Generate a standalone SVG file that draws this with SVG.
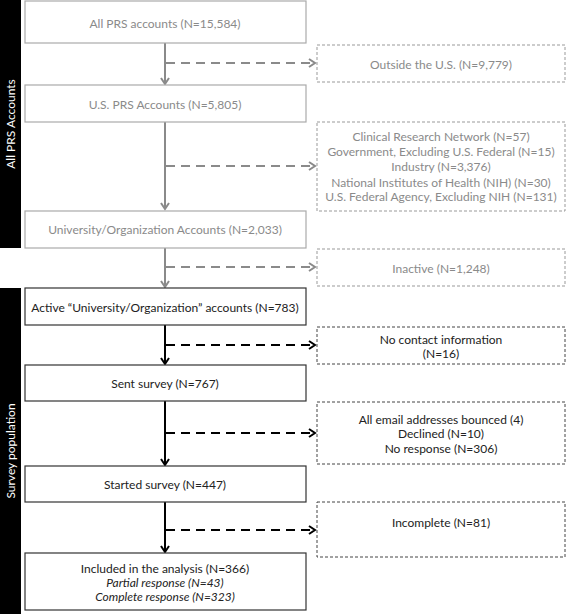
<svg xmlns="http://www.w3.org/2000/svg" width="567" height="614" viewBox="0 0 567 614">
<style>
text{font-family:Lato,"Liberation Sans",sans-serif;font-size:12px;text-anchor:middle}
.gbox{fill:#fff;stroke:#aaa;stroke-width:1.2}
.bbox{fill:#fff;stroke:#333;stroke-width:1.2}
.gdash{fill:#fff;stroke:#999;stroke-width:1;stroke-dasharray:3,2}
.bdash{fill:#fff;stroke:#444;stroke-width:1;stroke-dasharray:3,2}
.gt{fill:#8a8a8a}
.bt{fill:#222}
.side{fill:#000}
.st{fill:#fff;font-size:12px}
.gv{stroke:#8a8a8a;stroke-width:2;fill:none}
.bv{stroke:#000;stroke-width:2;fill:none}
.gh{stroke:#8a8a8a;stroke-width:2;fill:none;stroke-dasharray:9,6}
.bh{stroke:#000;stroke-width:2.2;fill:none;stroke-dasharray:9,6}
</style>
<defs>
<marker id="ag" markerWidth="10" markerHeight="10" refX="7" refY="5" orient="auto" markerUnits="userSpaceOnUse">
<path d="M1,1 L7,5 L1,9" fill="none" stroke="#8a8a8a" stroke-width="2"/>
</marker>
<marker id="ab" markerWidth="10" markerHeight="10" refX="7" refY="5" orient="auto" markerUnits="userSpaceOnUse">
<path d="M1,1 L7,5 L1,9" fill="none" stroke="#000" stroke-width="2"/>
</marker>
</defs>

<g id="side1"><rect class="side" x="0" y="0" width="21" height="248"/><text class="st" transform="translate(14.5,124) rotate(-90)">All PRS Accounts</text></g>
<g id="side2"><rect class="side" x="0" y="288" width="21" height="326"/><text class="st" transform="translate(14.5,451) rotate(-90)">Survey population</text></g>

<g id="connectors">
<path class="gv" d="M165,43 V84" marker-end="url(#ag)"/>
<path class="gv" d="M165,122 V209" marker-end="url(#ag)"/>
<path class="gv" d="M165,248 V287" marker-end="url(#ag)"/>
<path class="bv" d="M165,325 V364" marker-end="url(#ab)"/>
<path class="bv" d="M165,401 V465" marker-end="url(#ab)"/>
<path class="bv" d="M165,502 V552" marker-end="url(#ab)"/>
<path class="gh" d="M166,63 H315" marker-end="url(#ag)"/>
<path class="gh" d="M166,166 H315" marker-end="url(#ag)"/>
<path class="gh" d="M166,267 H315" marker-end="url(#ag)"/>
<path class="bh" d="M166,345 H315" marker-end="url(#ab)"/>
<path class="bh" d="M166,433 H315" marker-end="url(#ab)"/>
<path class="bh" d="M166,530 H315" marker-end="url(#ab)"/>
</g>

<g id="n1"><rect class="gbox" x="25" y="1" width="281" height="42"/><text class="gt" x="165" y="28">All PRS accounts (N=15,584)</text></g>
<g id="n2"><rect class="gbox" x="25" y="85" width="281" height="37"/><text class="gt" x="165" y="109">U.S. PRS Accounts (N=5,805)</text></g>
<g id="n3"><rect class="gbox" x="25" y="211" width="281" height="37"/><text class="gt" x="165" y="234">University/Organization Accounts (N=2,033)</text></g>
<g id="n4"><rect class="bbox" x="25" y="288" width="281" height="37"/><text class="bt" x="165" y="312">Active “University/Organization” accounts (N=783)</text></g>
<g id="n5"><rect class="bbox" x="25" y="365" width="281" height="36"/><text class="bt" x="165" y="388">Sent survey (N=767)</text></g>
<g id="n6"><rect class="bbox" x="25" y="466" width="281" height="36"/><text class="bt" x="165" y="489">Started survey (N=447)</text></g>
<g id="n7"><rect class="bbox" x="25" y="553" width="281" height="57"/>
<text class="bt" x="165" y="573">Included in the analysis (N=366)</text>
<text class="bt" x="165" y="587" font-style="italic">Partial response (N=43)</text>
<text class="bt" x="165" y="601" font-style="italic">Complete response (N=323)</text></g>

<g id="r1"><rect class="gdash" x="317" y="45" width="248" height="37"/><text class="gt" x="441" y="69">Outside the U.S. (N=9,779)</text></g>
<g id="r2"><rect class="gdash" x="317" y="122" width="248" height="89"/>
<text class="gt" x="441" y="141">Clinical Research Network (N=57)</text>
<text class="gt" x="441" y="156">Government, Excluding U.S. Federal (N=15)</text>
<text class="gt" x="441" y="171">Industry (N=3,376)</text>
<text class="gt" x="441" y="187">National Institutes of Health (NIH) (N=30)</text>
<text class="gt" x="441" y="201">U.S. Federal Agency, Excluding NIH (N=131)</text></g>
<g id="r3"><rect class="gdash" x="317" y="249" width="248" height="37"/><text class="gt" x="441" y="273">Inactive (N=1,248)</text></g>
<g id="r4"><rect class="bdash" x="317" y="327" width="248" height="37"/>
<text class="bt" x="441" y="344">No contact information</text>
<text class="bt" x="441" y="358">(N=16)</text></g>
<g id="r5"><rect class="bdash" x="317" y="402" width="248" height="62"/>
<text class="bt" x="441" y="424">All email addresses bounced (4)</text>
<text class="bt" x="441" y="438">Declined (N=10)</text>
<text class="bt" x="441" y="453">No response (N=306)</text></g>
<g id="r6"><rect class="bdash" x="317" y="502" width="248" height="55"/><text class="bt" x="441" y="527">Incomplete (N=81)</text></g>
</svg>
